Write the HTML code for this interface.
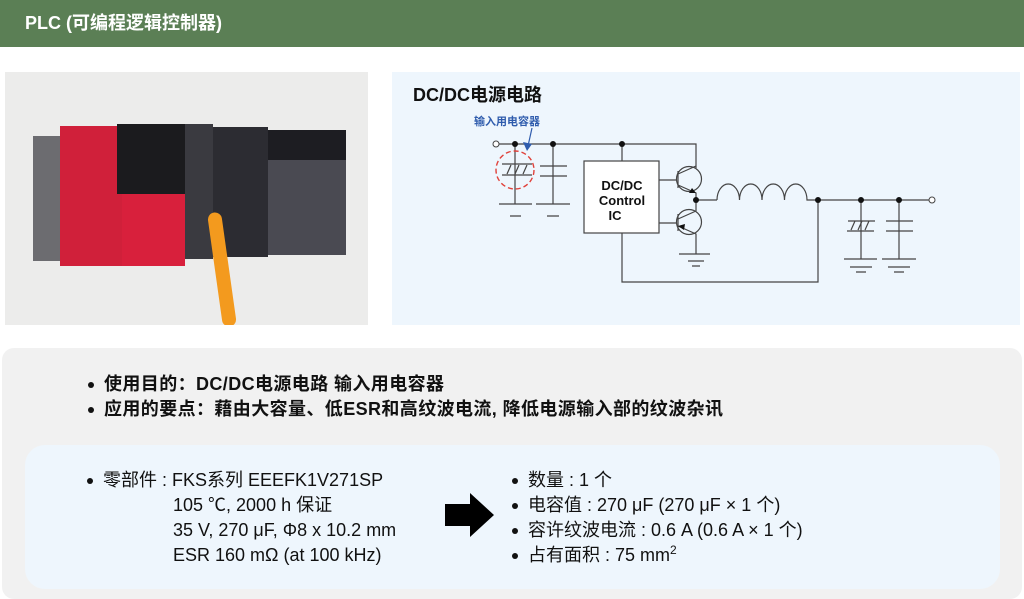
<!DOCTYPE html>
<html><head><meta charset="utf-8"><style>
body{margin:0;width:1024px;height:599px;background:#fff;position:relative;overflow:hidden;font-family:"Liberation Sans","Noto Sans CJK SC",sans-serif;}
.a{position:absolute;}
.hdr{left:0;top:0;width:1024px;height:47px;background:#5b7f55;color:#fff;font-weight:bold;font-size:18px;line-height:47px;}
.t{white-space:nowrap;font-size:18px;line-height:20px;color:#111;}
.b{font-weight:bold;}
.dot{display:inline-block;width:6px;height:6px;border-radius:3px;background:#111;margin-right:10px;vertical-align:middle;}
</style></head><body>
<div class="a hdr"><span style="margin-left:25px">PLC (可编程逻辑控制器)</span></div>

<!-- photo -->
<div class="a" style="left:5px;top:72px;width:363px;height:253px;background:#ececeb;overflow:hidden">
 <div class="a" style="left:28px;top:64px;width:35px;height:125px;background:#6c6c70"></div>
 <div class="a" style="left:55px;top:54px;width:62px;height:140px;background:#d0203a"></div>
 <div class="a" style="left:112px;top:52px;width:68px;height:70px;background:#1b1b1e"></div>
 <div class="a" style="left:117px;top:122px;width:63px;height:72px;background:#d8203c"></div>
 <div class="a" style="left:180px;top:52px;width:28px;height:135px;background:#3a3a40"></div>
 <div class="a" style="left:208px;top:55px;width:55px;height:130px;background:#2c2c32"></div>
 <div class="a" style="left:263px;top:58px;width:78px;height:125px;background:#4a4a52"></div>
 <div class="a" style="left:263px;top:58px;width:78px;height:30px;background:#1d1d22"></div>
 <div class="a" style="left:210px;top:140px;width:14px;height:115px;background:#f39a1e;border-radius:8px;transform:rotate(-8deg)"></div>
</div>

<!-- circuit panel -->
<div class="a" style="left:392px;top:72px;width:628px;height:253px;background:#eef6fd"></div>
<div class="a t b" style="left:413px;top:85px;font-size:18px">DC/DC电源电路</div>
<div class="a t b" style="left:474px;top:115px;font-size:11px;line-height:14px;color:#2f5cad">输入用电容器</div>
<svg class="a" style="left:0;top:0" width="1024" height="599">
<g stroke="#444" stroke-width="1.2" fill="none">
 <path d="M499 144H696V168"/>
 <path d="M515 144V204M553 144V204M622 144V161"/>
 <path d="M502 164H532M502 175H532M507 174l4-9M515 174l4-9M523 174l4-9"/>
 <path d="M540 166H567M540 176H567"/>
 <path d="M499 204H532M510 216H521"/>
 <path d="M536 204H570M547 216H559"/>
 <rect x="584" y="161" width="75" height="72" fill="#fff"/>
 <path d="M659 180H677M659 223H677"/>
 <circle cx="689" cy="179" r="12.5"/><circle cx="689" cy="222" r="12.5"/>
 <path d="M678 171V188M678 214V231"/>
 <path d="M678 174L696 166M678 185L696 193V211M678 219L696 211M678 226L696 234V254"/>
 <path d="M679 254H710M688 261H704M692 266H700"/>
 <path d="M696 200H717"/>
 <path d="M717 200a11.25 16 0 0 1 22.5 0a11.25 16 0 0 1 22.5 0a11.25 16 0 0 1 22.5 0a11.25 16 0 0 1 22.5 0H929"/>
 <path d="M622 233V282H818V200"/>
 <path d="M861 200V259M899 200V259"/>
 <path d="M848 221H875M847 231H874M851 230l4-9M858 230l4-9M865 230l4-9"/>
 <path d="M886 221H913M886 231H913"/>
 <path d="M844 259H877M850 267H872M856 272H866"/>
 <path d="M882 259H916M888 267H910M894 272H904"/>
</g>
<g fill="#111"><circle cx="515" cy="144" r="3"/><circle cx="553" cy="144" r="3"/><circle cx="622" cy="144" r="3"/><circle cx="696" cy="200" r="3"/><circle cx="818" cy="200" r="3"/><circle cx="861" cy="200" r="3"/><circle cx="899" cy="200" r="3"/>
<path d="M696 193l-7 0 3-5z"/><path d="M678 226l7-2-1 6z"/></g>
<circle cx="496" cy="144" r="3" fill="#fff" stroke="#444"/><circle cx="932" cy="200" r="3" fill="#fff" stroke="#444"/>
<circle cx="515" cy="170" r="19" fill="none" stroke="#e0413a" stroke-width="1.4" stroke-dasharray="5 3"/>
<path d="M532 128L528 146" stroke="#2f5cad" stroke-width="1.2"/><path d="M523 142l9 2-5 7z" fill="#2f5cad"/>
<text x="622" y="190" font-family="Liberation Sans" font-weight="bold" font-size="13" text-anchor="middle" fill="#111">DC/DC</text>
<text x="622" y="205" font-family="Liberation Sans" font-weight="bold" font-size="13" text-anchor="middle" fill="#111">Control</text>
<text x="615" y="220" font-family="Liberation Sans" font-weight="bold" font-size="13" text-anchor="middle" fill="#111">IC</text>
</svg>

<!-- bottom panel -->
<div class="a" style="left:2px;top:348px;width:1020px;height:251px;background:#f1f1f1;border-radius:12px"></div>
<div class="a t b" style="left:88px;top:374px;letter-spacing:0.4px"><span class="dot"></span>使用目的：DC/DC电源电路 输入用电容器</div>
<div class="a t b" style="left:88px;top:399px;letter-spacing:0.4px"><span class="dot"></span>应用的要点：藉由大容量、低ESR和高纹波电流, 降低电源输入部的纹波杂讯</div>
<div class="a" style="left:25px;top:445px;width:975px;height:144px;background:#eef6fd;border-radius:20px"></div>
<div class="a t" style="left:87px;top:470px"><span class="dot"></span>零部件 : FKS系列 EEEFK1V271SP</div>
<div class="a t" style="left:173px;top:495px">105 ℃, 2000 h 保证</div>
<div class="a t" style="left:173px;top:520px">35 V, 270 μF, Φ8 x 10.2 mm</div>
<div class="a t" style="left:173px;top:545px">ESR 160 mΩ (at 100 kHz)</div>
<svg class="a" style="left:444px;top:492px" width="52" height="46"><path d="M1 12H26V1L50 23L26 45V34H1Z" fill="#000"/></svg>
<div class="a t" style="left:512px;top:470px"><span class="dot"></span>数量 : 1 个</div>
<div class="a t" style="left:512px;top:495px"><span class="dot"></span>电容值 : 270 μF (270 μF × 1 个)</div>
<div class="a t" style="left:512px;top:520px"><span class="dot"></span>容许纹波电流 : 0.6 A (0.6 A × 1 个)</div>
<div class="a t" style="left:512px;top:545px"><span class="dot"></span>占有面积 : 75 mm<sup style="font-size:12px;line-height:0">2</sup></div>
</body></html>
